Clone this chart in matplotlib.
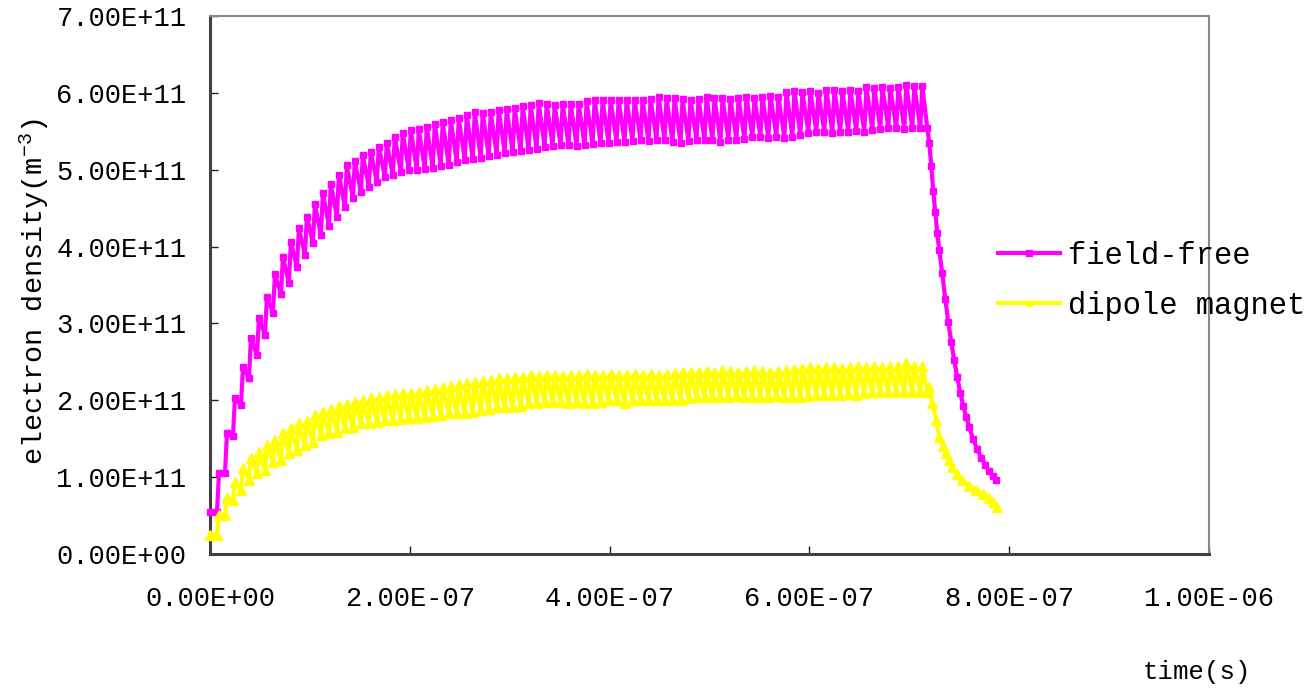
import numpy as np
import matplotlib
matplotlib.use("Agg")
import matplotlib.pyplot as plt
from matplotlib.ticker import FixedLocator, FuncFormatter

plt.rcParams['font.family'] = ['Liberation Mono', 'DejaVu Sans']
plt.rcParams['mathtext.fontset'] = 'custom'
plt.rcParams['mathtext.rm'] = 'Liberation Mono'
plt.rcParams['mathtext.it'] = 'Liberation Mono'

# ---------------- data (time in ns, density in 1e11 m^-3) ----------------
rise_ns = np.arange(7, 712, 8)          # start of each charging cycle (89 cycles)

ff_start = 0.55
ff_peaks = [1.05, 1.57, 2.03, 2.43, 2.81, 3.07, 3.34, 3.64, 3.86, 4.06,
            4.24, 4.39, 4.55, 4.70, 4.81, 4.93, 5.06, 5.11, 5.19, 5.23,
            5.30, 5.35, 5.43, 5.48, 5.52, 5.53, 5.56, 5.60, 5.62, 5.65,
            5.67, 5.71, 5.75, 5.74, 5.75, 5.78, 5.79, 5.80, 5.83, 5.84,
            5.87, 5.86, 5.84, 5.86, 5.86, 5.86, 5.89, 5.91, 5.91, 5.91,
            5.91, 5.91, 5.91, 5.91, 5.92, 5.95, 5.93, 5.93, 5.92, 5.91,
            5.92, 5.95, 5.93, 5.93, 5.92, 5.93, 5.95, 5.93, 5.95, 5.96,
            5.95, 6.01, 6.02, 6.01, 6.02, 6.00, 6.04, 6.04, 6.02, 6.04,
            6.02, 6.08, 6.06, 6.08, 6.06, 6.08, 6.10, 6.09, 6.09]
ff_troughs = [1.05, 1.54, 1.94, 2.29, 2.59, 2.85, 3.14, 3.38, 3.53, 3.73,
              3.89, 4.05, 4.15, 4.27, 4.39, 4.52, 4.63, 4.71, 4.78, 4.84,
              4.91, 4.93, 4.97, 5.00, 5.00, 5.01, 5.02, 5.05, 5.06, 5.10,
              5.13, 5.14, 5.15, 5.18, 5.19, 5.22, 5.23, 5.24, 5.26, 5.27,
              5.30, 5.31, 5.32, 5.32, 5.31, 5.32, 5.33, 5.35, 5.35, 5.36,
              5.36, 5.37, 5.39, 5.37, 5.39, 5.39, 5.36, 5.35, 5.37, 5.39,
              5.39, 5.39, 5.36, 5.39, 5.39, 5.40, 5.43, 5.43, 5.41, 5.43,
              5.41, 5.43, 5.45, 5.48, 5.49, 5.49, 5.48, 5.49, 5.49, 5.50,
              5.49, 5.52, 5.53, 5.54, 5.54, 5.53, 5.54, 5.54, 5.54]
ff_drop_t = [720, 722, 724, 726, 728, 730, 733, 736, 739, 742, 745, 748,
             751, 754, 757, 760, 764, 768, 772, 776, 780, 784, 787]
ff_drop_v = [5.35, 5.05, 4.72, 4.45, 4.18, 3.95, 3.65, 3.32, 3.02, 2.76, 2.52, 2.30,
             2.10, 1.93, 1.78, 1.65, 1.49, 1.36, 1.25, 1.16, 1.08, 1.01, 0.96]

dm_start = 0.25
dm_peaks = [0.51, 0.73, 0.94, 1.12, 1.25, 1.33, 1.42, 1.48, 1.57, 1.64,
            1.70, 1.73, 1.81, 1.85, 1.89, 1.93, 1.95, 1.98, 2.00, 2.03,
            2.04, 2.07, 2.08, 2.09, 2.09, 2.11, 2.13, 2.15, 2.17, 2.18,
            2.21, 2.22, 2.24, 2.25, 2.27, 2.29, 2.29, 2.30, 2.30, 2.33,
            2.32, 2.33, 2.33, 2.32, 2.33, 2.33, 2.34, 2.33, 2.33, 2.34,
            2.33, 2.33, 2.34, 2.33, 2.34, 2.33, 2.34, 2.35, 2.37, 2.37,
            2.37, 2.38, 2.37, 2.39, 2.38, 2.37, 2.38, 2.39, 2.38, 2.37,
            2.38, 2.39, 2.41, 2.42, 2.43, 2.42, 2.43, 2.43, 2.42, 2.43,
            2.44, 2.43, 2.44, 2.43, 2.45, 2.44, 2.48, 2.45, 2.44]
dm_troughs = [0.51, 0.70, 0.83, 0.96, 1.05, 1.09, 1.20, 1.22, 1.31, 1.35,
              1.42, 1.46, 1.55, 1.57, 1.59, 1.64, 1.65, 1.70, 1.70, 1.72,
              1.74, 1.74, 1.76, 1.77, 1.77, 1.78, 1.80, 1.81, 1.83, 1.83,
              1.83, 1.85, 1.87, 1.89, 1.91, 1.91, 1.91, 1.93, 1.96, 1.97,
              1.98, 1.98, 1.98, 1.96, 1.98, 1.96, 1.96, 1.98, 2.00, 2.00,
              1.96, 2.00, 2.00, 2.00, 2.00, 2.00, 2.00, 2.01, 2.03, 2.04,
              2.04, 2.04, 2.04, 2.04, 2.05, 2.04, 2.04, 2.04, 2.04, 2.05,
              2.04, 2.04, 2.04, 2.05, 2.07, 2.07, 2.07, 2.07, 2.08, 2.07,
              2.09, 2.11, 2.11, 2.11, 2.11, 2.11, 2.11, 2.11, 2.11]
dm_drop_t = [720, 723, 727, 730, 734, 737, 740, 743, 748, 753, 760, 767, 774, 780, 784, 788]
dm_drop_v = [2.17, 1.96, 1.74, 1.52, 1.40, 1.31, 1.22, 1.13, 1.04, 0.96, 0.89, 0.83,
             0.78, 0.73, 0.68, 0.61]

x_ticks = [0, 2e-7, 4e-7, 6e-7, 8e-7, 1e-6]
y_ticks = [0, 1e11, 2e11, 3e11, 4e11, 5e11, 6e11, 7e11]
series_names = ['field-free', 'dipole magnet']
series_colors = ['#FF00FF', '#FFFF00']


def build(start, peaks, troughs, drop_t, drop_v):
    ts, vs = [0.0], [start]
    prev = start
    for tr, p, tro in zip(rise_ns, peaks, troughs):
        ts += [tr, tr + 2]
        vs += [prev, p]
        prev = tro
    ts.append(rise_ns[-1] + 7)
    vs.append(prev)
    ts += list(drop_t)
    vs += list(drop_v)
    return np.array(ts) * 1e-9, np.array(vs) * 1e11


ff_t, ff_v = build(ff_start, ff_peaks, ff_troughs, ff_drop_t, ff_drop_v)
dm_t, dm_v = build(dm_start, dm_peaks, dm_troughs, dm_drop_t, dm_drop_v)

# ---------------- figure ----------------
W, H = 1315, 688
fig = plt.figure(figsize=(W / 100, H / 100), dpi=100)
ax = fig.add_axes([210 / W, 1 - 554 / H, (1209 - 210) / W, (554 - 16) / H])

l1, = ax.plot(ff_t, ff_v, color=series_colors[0], lw=3.0, marker='s', ms=5,
              mec=series_colors[0], label=series_names[0], clip_on=False, zorder=3,
              solid_joinstyle='round')
l2, = ax.plot(dm_t, dm_v, color=series_colors[1], lw=3.0, marker='^', ms=7,
              mec=series_colors[1], label=series_names[1], clip_on=False, zorder=4,
              solid_joinstyle='round')

ax.set_xlim(0, 1e-6)
ax.set_ylim(0, 7e11)
ax.xaxis.set_major_locator(FixedLocator(x_ticks))
ax.yaxis.set_major_locator(FixedLocator(y_ticks))
fmt = FuncFormatter(lambda v, p: f"{v:.2E}")
ax.xaxis.set_major_formatter(fmt)
ax.yaxis.set_major_formatter(fmt)

ax.tick_params(axis='both', direction='in', length=6, width=1.0, color='#222222',
               labelsize=19.5, labelcolor='black')
ax.tick_params(axis='y', pad=17)
ax.tick_params(axis='x', pad=23)

for s in ['left', 'bottom']:
    ax.spines[s].set_color('#404040')
    ax.spines[s].set_linewidth(2.2)
for s in ['top', 'right']:
    ax.spines[s].set_color('#888888')
    ax.spines[s].set_linewidth(1.5)

fig.text(34 / W, 1 - 291 / H, 'electron density(m$^{-3}$)', rotation=90,
         ha='center', va='center', fontsize=20.5)
fig.text(1197 / W, 1 - 672 / H, 'time(s)', ha='center', va='center', fontsize=18.5)

leg = ax.legend(handles=[l1, l2], loc='center left',
                bbox_to_anchor=(998 / W, 1 - 281 / H), bbox_transform=fig.transFigure,
                frameon=False, fontsize=22, handlelength=2.03, handletextpad=0.26,
                labelspacing=0.65, borderpad=0, borderaxespad=0, numpoints=1)
for h in leg.legend_handles:
    h.set_markersize(4)

fig.savefig('out.png', dpi=100)
